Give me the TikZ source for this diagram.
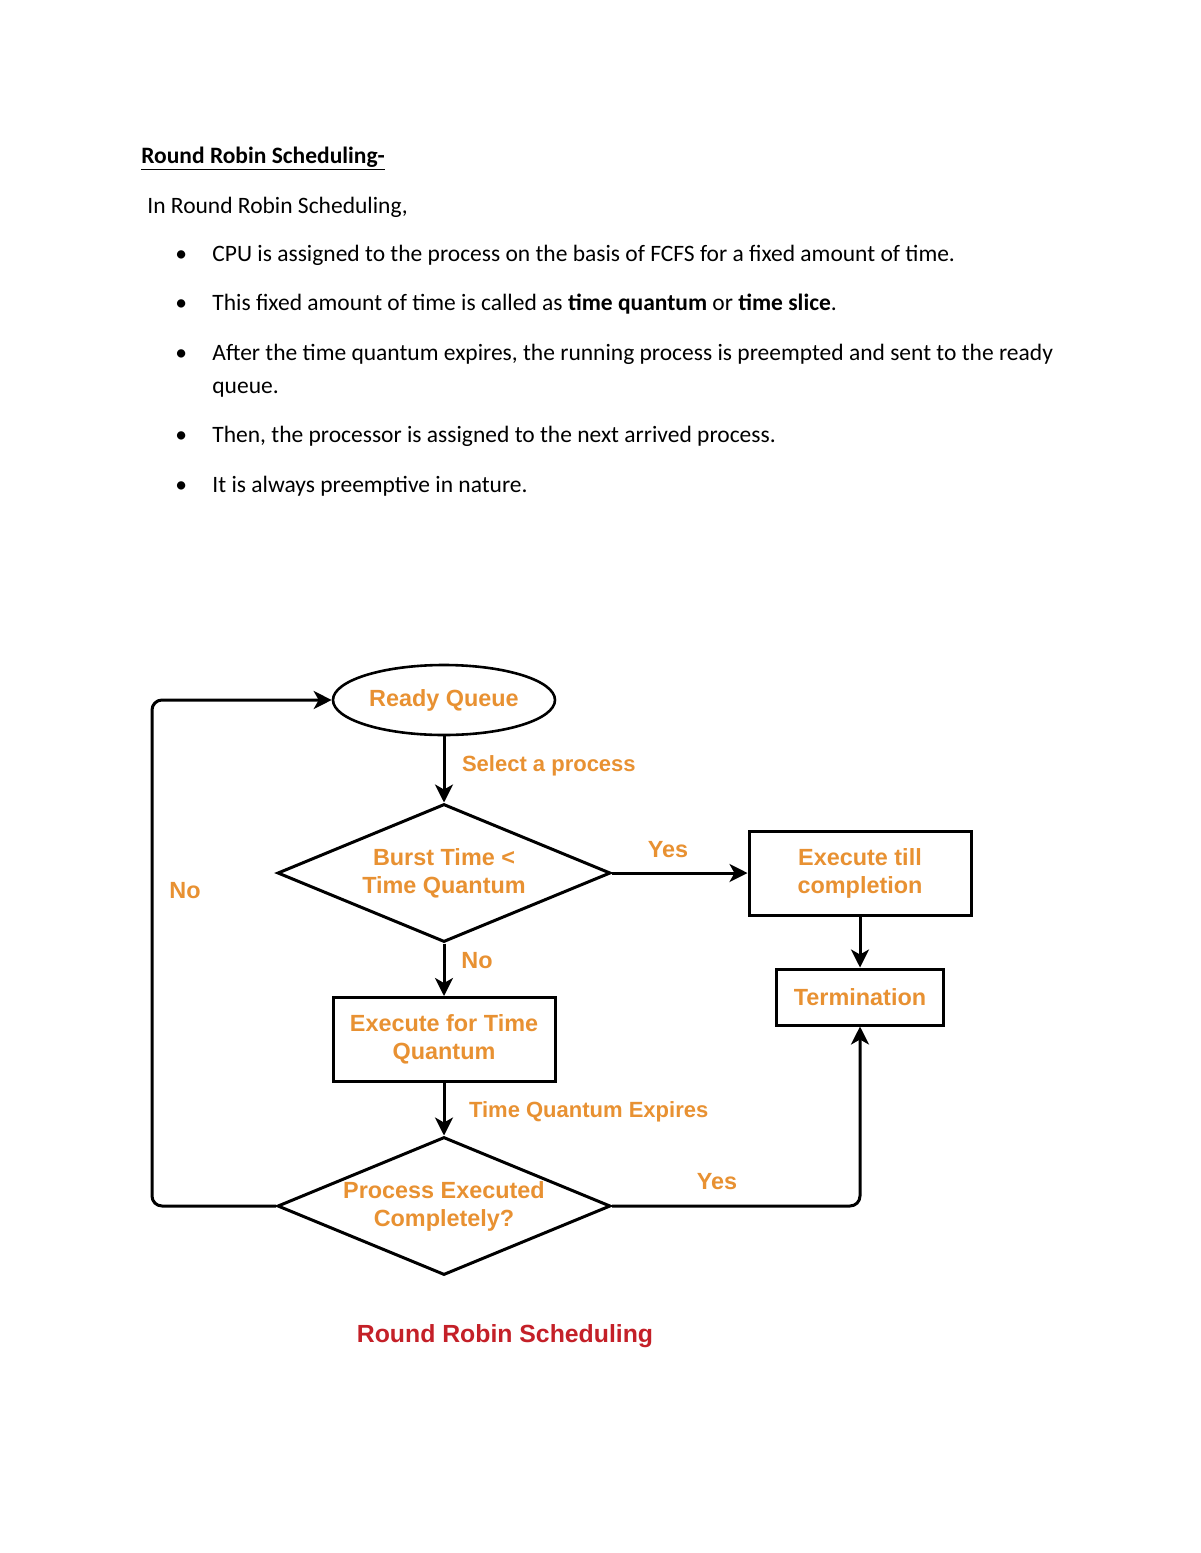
\documentclass[tikz,border=0pt]{standalone}
\usepackage{fontspec}
\setmainfont{Carlito}
\newfontfamily\arialfont{Liberation Sans}
\usetikzlibrary{positioning, shapes.geometric, arrows.meta}
\definecolor{flowtext}{RGB}{232,145,50}
\definecolor{titlered}{RGB}{196,32,40}

\begin{document}
\begin{tikzpicture}[x=0.5pt, y=-0.5pt,
  body/.style={anchor=base west, inner sep=0pt, font=\fontsize{11.75}{14}\selectfont},
  flowfont/.style={font=\arialfont\bfseries\fontsize{11.7}{14}\selectfont, text=flowtext},
  box/.style={draw, line width=1.5pt, rectangle, minimum width=111pt, minimum height=42pt, inner sep=0pt, align=center, flowfont},
  oval/.style={draw, line width=1.3pt, ellipse, minimum width=111pt, minimum height=35pt, inner sep=0pt, flowfont},
  decision/.style={draw, line width=1.5pt, diamond, aspect=2.4, minimum width=166.5pt, minimum height=69pt, inner sep=0pt, align=center, flowfont},
  lbl/.style={flowfont},
  edgelbl/.style={flowfont, font=\arialfont\bfseries\fontsize{11}{13}\selectfont, anchor=west},
  flowarrow/.style={-{Stealth[length=9pt, width=9pt, inset=2.5pt]}, line width=1.5pt}]
\useasboundingbox[fill=white] (0,0) rectangle (1200,1553);

% text above the chart
\node[body, font=\bfseries\fontsize{11.75}{14}\selectfont] (heading) at (141,163) {\underline{Round Robin Scheduling-}};
\node[body] (intro) at (147,213) {In Round Robin Scheduling,};
\node[body] (item1) at (212,261) {CPU is assigned to the process on the basis of FCFS for a fixed amount of time.};
\node[body] (item2) at (212,310) {This fixed amount of time is called as \textbf{time quantum} or \textbf{time slice}.};
\node[body] (item3) at (212,360) {After the time quantum expires, the running process is preempted and sent to the ready};
\node[body] (item3b) at (212,393) {queue.};
\node[body] (item4) at (212,442) {Then, the processor is assigned to the next arrived process.};
\node[body] (item5) at (212,492) {It is always preemptive in nature.};
\foreach \y in {261,310,360,442,492}
  \node[body] at (175,\y) {\textbullet};

% flowchart
\node[oval] (ready) at (444,700) {Ready Queue};
\node[decision] (burst) at (444,873) {Burst Time <\\Time Quantum};
\node[box] (tillend) at (860,873) {Execute till\\completion};
\node[box, minimum width=83.5pt, minimum height=28pt] (term) at (860,997) {Termination};
\node[box] (slice) at (444,1039.5) {Execute for Time\\Quantum};
\node[decision] (done) at (444,1206) {Process Executed\\Completely?};
\coordinate (loop) at (152,1206);

\draw[flowarrow] (ready) -- (burst);
\draw[flowarrow] (burst) -- (tillend);
\draw[flowarrow] (tillend) -- (term);
\draw[flowarrow] (burst) -- (slice);
\draw[flowarrow] (slice) -- (done);
\draw[flowarrow, rounded corners=5pt] (done.east) -| (term.south);
\draw[flowarrow, rounded corners=5pt] (done.west) -- (loop) |- (ready.west);

\node[edgelbl] (selectlbl) at (455,766) {Select a process};
\node[lbl] (yes1) at (668,850) {Yes};
\node[lbl] (no1) at (477,961) {No};
\node[edgelbl] (expires) at (462,1112) {Time Quantum Expires};
\node[lbl] (yes2) at (717,1182) {Yes};
\node[lbl] (no2) at (185,891) {No};

\node[font=\arialfont\bfseries\fontsize{12.4}{15}\selectfont, text=titlered] (caption) at (505,1336) {Round Robin Scheduling};
\end{tikzpicture}
\end{document}
